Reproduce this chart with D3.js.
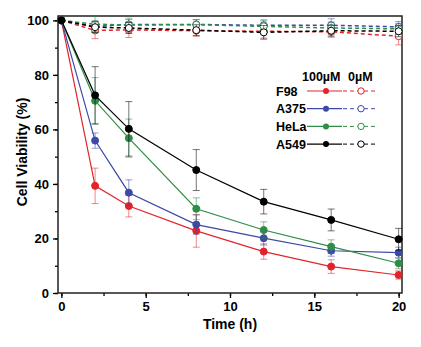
<!DOCTYPE html>
<html>
<head>
<meta charset="utf-8">
<script src="https://cdn.jsdelivr.net/npm/d3@7"></script>
<style>
  body { margin: 0; background: #fff; }
  text { font-family: Arial, "Liberation Sans", sans-serif; font-weight: bold; }
</style>
</head>
<body>
<svg id="chart" width="421" height="347"></svg>
<script>
// data
const times = [0, 2, 4, 8, 12, 16, 20];
const cells = ["F98", "A375", "HeLa", "A549"];
const colors = ["#e2242a", "#3c4aa5", "#2e8d46", "#000000"];

// 100 uM treatment
const f98_100 = [100, 39.3, 31.9, 22.8, 15.2, 9.7, 6.6];
const a375_100 = [100, 55.9, 36.8, 25.1, 20.1, 15.5, 14.8];
const hela_100 = [100, 70.5, 56.8, 30.9, 23.1, 17.0, 10.9];
const a549_100 = [100, 72.5, 60.2, 45.1, 33.5, 26.8, 19.7];
const f98_100err = [0, 6.5, 4.0, 6.0, 2.8, 2.5, 1.5];
const a375_100err = [0, 2.8, 4.7, 3.5, 2.5, 2.0, 2.0];
const hela_100err = [0, 8.5, 7.0, 4.0, 3.0, 2.5, 2.0];
const a549_100err = [0, 10.5, 10.0, 7.5, 4.5, 4.0, 4.0];

// 0 uM control
const f98_0 = [100, 96.3, 96.5, 96.2, 96.0, 95.8, 94.2];
const a375_0 = [100, 97.8, 98.5, 98.5, 98.2, 98.2, 97.6];
const hela_0 = [100, 98.6, 98.3, 98.4, 97.8, 97.2, 96.9];
const a549_0 = [100, 97.5, 97.2, 96.4, 95.6, 96.2, 96.0];
const f98_0err = [0, 3.0, 2.8, 2.0, 2.5, 2.0, 3.2];
const a375_0err = [0, 2.0, 1.8, 1.8, 2.0, 2.4, 2.0];
const hela_0err = [0, 3.0, 2.5, 1.8, 2.0, 2.2, 2.0];
const a549_0err = [0, 2.0, 2.0, 2.0, 2.5, 2.0, 2.0];

const xTicks = [0, 5, 10, 15, 20];
const yTicks = [0, 20, 40, 60, 80, 100];

const treated = [f98_100, a375_100, hela_100, a549_100];
const treatedErr = [f98_100err, a375_100err, hela_100err, a549_100err];
const control = [f98_0, a375_0, hela_0, a549_0];
const controlErr = [f98_0err, a375_0err, hela_0err, a549_0err];

const svg = d3.select('#chart');
const x = d3.scaleLinear().domain([-0.2, 20.2]).range([58, 402]);
const y = d3.scaleLinear().domain([0, 101.6]).range([293, 16]);

// axes
svg.append('g')
    .attr('transform', 'translate(0,293)')
    .call(d3.axisBottom(x).tickValues(d3.range(0, 20.1, 2.5)).tickSize(3).tickFormat(''))
    .call(g => g.select('.domain').remove());
svg.append('g')
    .attr('transform', 'translate(0,293)')
    .call(d3.axisBottom(x).tickValues(xTicks).tickSize(5).tickPadding(4))
    .call(g => g.select('.domain').remove())
    .selectAll('text').attr('font-size', 13).attr('font-family', 'Arial, Liberation Sans, sans-serif');
svg.append('g')
    .attr('transform', 'translate(58,0)')
    .call(d3.axisLeft(y).tickValues(d3.range(0, 101, 10)).tickSize(3).tickFormat(''))
    .call(g => g.select('.domain').remove());
svg.append('g')
    .attr('transform', 'translate(58,0)')
    .call(d3.axisLeft(y).tickValues(yTicks).tickSize(5).tickPadding(4))
    .call(g => g.select('.domain').remove())
    .selectAll('text').attr('font-size', 13).attr('font-family', 'Arial, Liberation Sans, sans-serif');
svg.selectAll('.tick line').attr('stroke-width', 1.3);

// frame
svg.append('rect')
    .attr('x', 58).attr('y', 16)
    .attr('width', 344).attr('height', 277)
    .attr('fill', 'none')
    .attr('stroke', '#222')
    .attr('stroke-width', 1.5);

const line = d3.line().x((d, i) => x(times[i])).y(d => y(d));

function drawSeries(vals, errs, color, dashed, filled) {
    const g = svg.append('g');
    // error bars
    vals.forEach((v, i) => {
        if (!errs[i]) return;
        const cx = x(times[i]);
        const top = y(Math.min(v + errs[i], 101.6));
        const bot = y(v - errs[i]);
        g.append('line').attr('x1', cx).attr('x2', cx).attr('y1', top).attr('y2', bot)
            .attr('stroke', color).attr('stroke-width', 0.9).attr('opacity', 0.6);
        [v + errs[i], v - errs[i]].forEach(e => {
            if (e > 101.6) return;
            g.append('line').attr('x1', cx - 3.5).attr('x2', cx + 3.5).attr('y1', y(e)).attr('y2', y(e))
                .attr('stroke', color).attr('stroke-width', 0.9).attr('opacity', 0.6);
        });
    });
    g.append('path')
        .attr('d', line(vals))
        .attr('fill', 'none')
        .attr('stroke', color)
        .attr('stroke-width', dashed ? 1.5 : 1.2)
        .attr('stroke-dasharray', dashed ? '4,3' : null);
    g.selectAll('circle').data(vals).join('circle')
        .attr('cx', (d, i) => x(times[i]))
        .attr('cy', d => y(d))
        .attr('r', 3.5)
        .attr('fill', filled ? color : '#fff')
        .attr('stroke', color)
        .attr('stroke-width', 1);
}

control.forEach((s, k) => drawSeries(s, controlErr[k], colors[k], true, false));
treated.forEach((s, k) => drawSeries(s, treatedErr[k], colors[k], false, true));

// legend
svg.append('text').attr('x', 302).attr('y', 81).attr('font-size', 12.5).text('100\u00b5M');
svg.append('text').attr('x', 348).attr('y', 81).attr('font-size', 12.5).text('0\u00b5M');
cells.forEach((c, k) => {
    const ly = 91 + k * 17.7;
    svg.append('text').attr('x', 276).attr('y', ly + 4.5).attr('font-size', 12.5).text(c);
    svg.append('line').attr('x1', 307).attr('x2', 342).attr('y1', ly).attr('y2', ly)
        .attr('stroke', colors[k]).attr('stroke-width', 1.2);
    svg.append('circle').attr('cx', 326).attr('cy', ly).attr('r', 3).attr('fill', colors[k]);
    svg.append('line').attr('x1', 343).attr('x2', 376).attr('y1', ly).attr('y2', ly)
        .attr('stroke', colors[k]).attr('stroke-width', 1).attr('stroke-dasharray', '4,3');
    svg.append('circle').attr('cx', 361).attr('cy', ly).attr('r', 3.2)
        .attr('fill', '#fff').attr('stroke', colors[k]).attr('stroke-width', 1);
});

// axis titles
svg.append('text').attr('x', 230).attr('y', 329).attr('text-anchor', 'middle')
    .attr('font-size', 14).text('Time (h)');
svg.append('text').attr('transform', 'translate(27,152) rotate(-90)').attr('text-anchor', 'middle')
    .attr('font-size', 14).text('Cell Viability (%)');
</script>
</body>
</html>
